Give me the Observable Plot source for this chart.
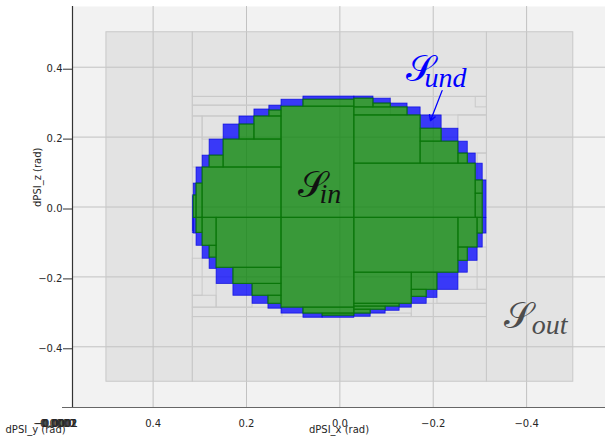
<!DOCTYPE html>
<html>
<head>
<meta charset="utf-8">
<script src="https://cdn.jsdelivr.net/npm/d3@7"></script>
<script src="https://cdn.jsdelivr.net/npm/@observablehq/plot@0.6"></script>
<style>
  html, body { margin: 0; padding: 0; background: #ffffff; }
  svg { display: block; }
</style>
</head>
<body>
<div id="chart"></div>
<script>
// ---- axes ----
const xDomain = [0.5727, -0.569];
const yDomain = [-0.5737, 0.5737];
const xTicks = [0.4, 0.2, 0.0, -0.2, -0.4];
const yTicks = [-0.4, -0.2, 0.0, 0.2, 0.4];
const collapsedTickLabels = ["−0.0002", "−0.0001", "0.0000", "0.0001", "0.0002"];

// ---- paving boxes [x1, x2, y1, y2] ----
const searchBox = [[0.5, -0.5, 0.5, -0.5]];

const outerBoxes = [
  [0.5, 0.315, 0.5, -0.5], [-0.315, -0.5, 0.5, -0.5],
  [0.315, -0.315, 0.5, 0.315], [0.315, -0.315, -0.315, -0.5],
  [0.315, 0.078, 0.315, 0.290], [0.315, 0.151, 0.290, 0.259],
  [0.315, 0.294, 0.259, 0.113], [0.294, 0.215, 0.259, 0.193],
  [0.315, 0.123, -0.288, -0.315], [0.315, 0.264, -0.254, -0.288],
  [0.264, 0.187, -0.220, -0.288], [0.315, 0.294, -0.148, -0.254],
  [-0.154, -0.315, -0.277, -0.315], [-0.209, -0.315, -0.237, -0.277],
  [-0.295, -0.315, -0.116, -0.237], [-0.031, -0.154, -0.305, -0.315],
  [-0.109, -0.315, 0.315, 0.262], [-0.291, -0.315, 0.315, 0.285],
  [-0.254, -0.315, 0.262, 0.153], [-0.295, -0.315, 0.153, 0.076]
];

const innerBoxes = [
  // centre
  [0.125, -0.031, 0.287, -0.031], [0.125, -0.031, -0.031, -0.288],
  [0.078, -0.031, 0.307, 0.287], [0.078, -0.031, -0.288, -0.305],
  [0.037, -0.031, -0.305, -0.311],
  // upper left
  [0.294, 0.125, 0.113, -0.031], [0.307, 0.294, 0.067, -0.031],
  [0.313, 0.307, 0.033, -0.031], [0.249, 0.125, 0.193, 0.113],
  [0.279, 0.249, 0.147, 0.113], [0.183, 0.125, 0.259, 0.193],
  [0.215, 0.183, 0.236, 0.193], [0.151, 0.125, 0.276, 0.259],
  // upper right
  [-0.031, -0.072, 0.310, 0.285], [-0.072, -0.109, 0.296, 0.285],
  [-0.031, -0.145, 0.285, 0.262], [-0.031, -0.173, 0.262, 0.124],
  [-0.173, -0.218, 0.224, 0.187], [-0.173, -0.254, 0.187, 0.124],
  [-0.254, -0.274, 0.153, 0.124], [-0.031, -0.291, 0.124, -0.031],
  [-0.291, -0.306, 0.076, 0.038], [-0.291, -0.306, 0.038, -0.031],
  // lower right
  [-0.031, -0.254, -0.031, -0.188], [-0.254, -0.295, -0.031, -0.116],
  [-0.254, -0.274, -0.116, -0.154], [-0.295, -0.306, -0.031, -0.076],
  [-0.154, -0.209, -0.188, -0.237], [-0.154, -0.186, -0.237, -0.257],
  [-0.031, -0.154, -0.188, -0.277], [-0.031, -0.128, -0.277, -0.285],
  [-0.031, -0.098, -0.285, -0.294], [-0.031, -0.066, -0.294, -0.305],
  // lower left
  [0.264, 0.125, -0.031, -0.174], [0.294, 0.264, -0.031, -0.111],
  [0.279, 0.264, -0.111, -0.145], [0.307, 0.294, -0.031, -0.074],
  [0.228, 0.125, -0.174, -0.220], [0.187, 0.125, -0.220, -0.254],
  [0.153, 0.125, -0.254, -0.277]
];

const boundaryBoxes = [
  // upper left
  [0.315, 0.313, 0.033, -0.074], [0.313, 0.307, 0.067, 0.033],
  [0.307, 0.294, 0.113, 0.067], [0.294, 0.279, 0.147, 0.113],
  [0.279, 0.249, 0.193, 0.147], [0.249, 0.215, 0.236, 0.193],
  [0.215, 0.183, 0.259, 0.236], [0.183, 0.151, 0.279, 0.259],
  [0.151, 0.125, 0.290, 0.276], [0.125, 0.078, 0.307, 0.287],
  [0.078, -0.031, 0.316, 0.307],
  // upper right
  [-0.031, -0.072, 0.316, 0.310], [-0.072, -0.109, 0.310, 0.296],
  [-0.109, -0.145, 0.296, 0.285], [-0.145, -0.173, 0.285, 0.262],
  [-0.173, -0.218, 0.262, 0.224], [-0.218, -0.254, 0.224, 0.187],
  [-0.254, -0.274, 0.187, 0.153], [-0.274, -0.291, 0.153, 0.124],
  [-0.291, -0.306, 0.124, 0.076], [-0.306, -0.314, 0.076, -0.031],
  // lower right
  [-0.306, -0.314, -0.031, -0.076], [-0.295, -0.306, -0.076, -0.116],
  [-0.274, -0.295, -0.116, -0.154], [-0.254, -0.274, -0.154, -0.188],
  [-0.209, -0.254, -0.188, -0.237], [-0.186, -0.209, -0.237, -0.260],
  [-0.154, -0.186, -0.257, -0.277], [-0.128, -0.154, -0.277, -0.288],
  [-0.098, -0.128, -0.285, -0.297], [-0.066, -0.098, -0.294, -0.305],
  [-0.031, -0.066, -0.305, -0.314], [0.037, -0.031, -0.311, -0.317],
  // lower left
  [0.078, 0.037, -0.305, -0.317], [0.125, 0.078, -0.288, -0.305],
  [0.153, 0.125, -0.277, -0.291], [0.187, 0.153, -0.254, -0.277],
  [0.228, 0.187, -0.220, -0.254], [0.264, 0.228, -0.174, -0.220],
  [0.279, 0.264, -0.145, -0.177], [0.294, 0.279, -0.111, -0.148],
  [0.307, 0.294, -0.074, -0.111], [0.313, 0.307, -0.031, -0.076]
];

// ---- set labels ----
const setNames = ["𝒮", "𝒮", "𝒮"];
const setSubs = ["in", "und", "out"];
const setX = [0.0906, -0.1408, -0.3508];
const setY = [0.0296, 0.3619, -0.345];
const subX = [0.0435, -0.1815, -0.4108];
const subY = [0.0125, 0.3446, -0.3627];
const setColors = ["#111111", "#0000ff", "#4d4d4d"];
const arrowFrom = [-0.219, 0.333];
const arrowTo = [-0.194, 0.247];

const rows = a => a.map(([x1, x2, y1, y2]) => ({x1, x2, y1, y2}));
const fmt = d3.format(".1f");
const sets = setNames.map((s, i) => ({s, sub: setSubs[i], x: setX[i], y: setY[i], sx: subX[i], sy: subY[i], c: setColors[i]}));

const chart = Plot.plot({
  width: 605,
  height: 436,
  marginLeft: 72,
  marginRight: 0,
  marginTop: 6,
  marginBottom: 29,
  style: {fontFamily: "DejaVu Sans", fontSize: "10px", color: "#262626", background: "#ffffff"},
  x: {domain: xDomain, axis: null},
  y: {domain: yDomain, axis: null},
  marks: [
    Plot.frame({fill: "#f2f2f2", stroke: null}),
    Plot.rect(rows(searchBox), {x1: "x1", x2: "x2", y1: "y1", y2: "y2", fill: "#e3e3e3"}),
    Plot.ruleX(xTicks, {stroke: "#c2c2c2", strokeWidth: 1}),
    Plot.ruleY(yTicks, {stroke: "#c2c2c2", strokeWidth: 1}),
    Plot.rect(rows(outerBoxes), {x1: "x1", x2: "x2", y1: "y1", y2: "y2", fill: "none", stroke: "#c9c9c9", strokeWidth: 1}),
    Plot.rect(rows(boundaryBoxes), {x1: "x1", x2: "x2", y1: "y1", y2: "y2", fill: "#0000ff", fillOpacity: 0.75, stroke: "#0000e0", strokeOpacity: 0.8, strokeWidth: 0.8}),
    Plot.rect(rows(innerBoxes), {x1: "x1", x2: "x2", y1: "y1", y2: "y2", fill: "#008000", fillOpacity: 0.75, stroke: "#0a750a", strokeWidth: 1}),
    Plot.axisY(yTicks, {tickSize: 9, tickPadding: 1, tickFormat: fmt, stroke: "#333333", fill: "#262626", fontSize: 10, dy: 2, label: null}),
    Plot.axisX(xTicks, {tickSize: 0, tickPadding: 12, tickFormat: fmt, fill: "#262626", fontSize: 10, label: null}),
    Plot.ruleX([xDomain[0]], {stroke: "#333333", strokeWidth: 1.2}),
    Plot.ruleY([yDomain[0]], {x1: 0.5941, x2: xDomain[1], stroke: "#666666", strokeWidth: 1.2}),
    ...collapsedTickLabels.map((t, i) => Plot.text([t], {frameAnchor: "bottom-left", dx: -17.5 + i * 1.2, dy: 12, lineAnchor: "top", textAnchor: "middle", fill: "#262626", fontSize: 10})),
    Plot.text(["dPSI_y (rad)"], {frameAnchor: "bottom-left", dx: -67, dy: 25, textAnchor: "start", fill: "#262626", fontSize: 10}),
    Plot.text(["dPSI_x (rad)"], {frameAnchor: "bottom", dy: 25, fill: "#262626", fontSize: 10}),
    Plot.text(["dPSI_z (rad)"], {frameAnchor: "left", dx: -35, rotate: -90, fill: "#262626", fontSize: 10}),
    Plot.arrow([{x1: arrowFrom[0], y1: arrowFrom[1], x2: arrowTo[0], y2: arrowTo[1]}], {x1: "x1", y1: "y1", x2: "x2", y2: "y2", stroke: "#0000ff", strokeWidth: 1.3, headLength: 7, bend: 0}),
    Plot.text(sets, {x: "x", y: "y", text: "s", fill: "c", textAnchor: "start", lineAnchor: "bottom", fontSize: 37, fontFamily: "DejaVu Serif, serif"}),
    Plot.text(sets, {x: "sx", y: "sy", text: "sub", fill: "c", textAnchor: "start", lineAnchor: "bottom", fontSize: 28, fontStyle: "italic", fontFamily: "Liberation Serif, serif"})
  ]
});
document.getElementById("chart").appendChild(chart);
</script>
</body>
</html>
